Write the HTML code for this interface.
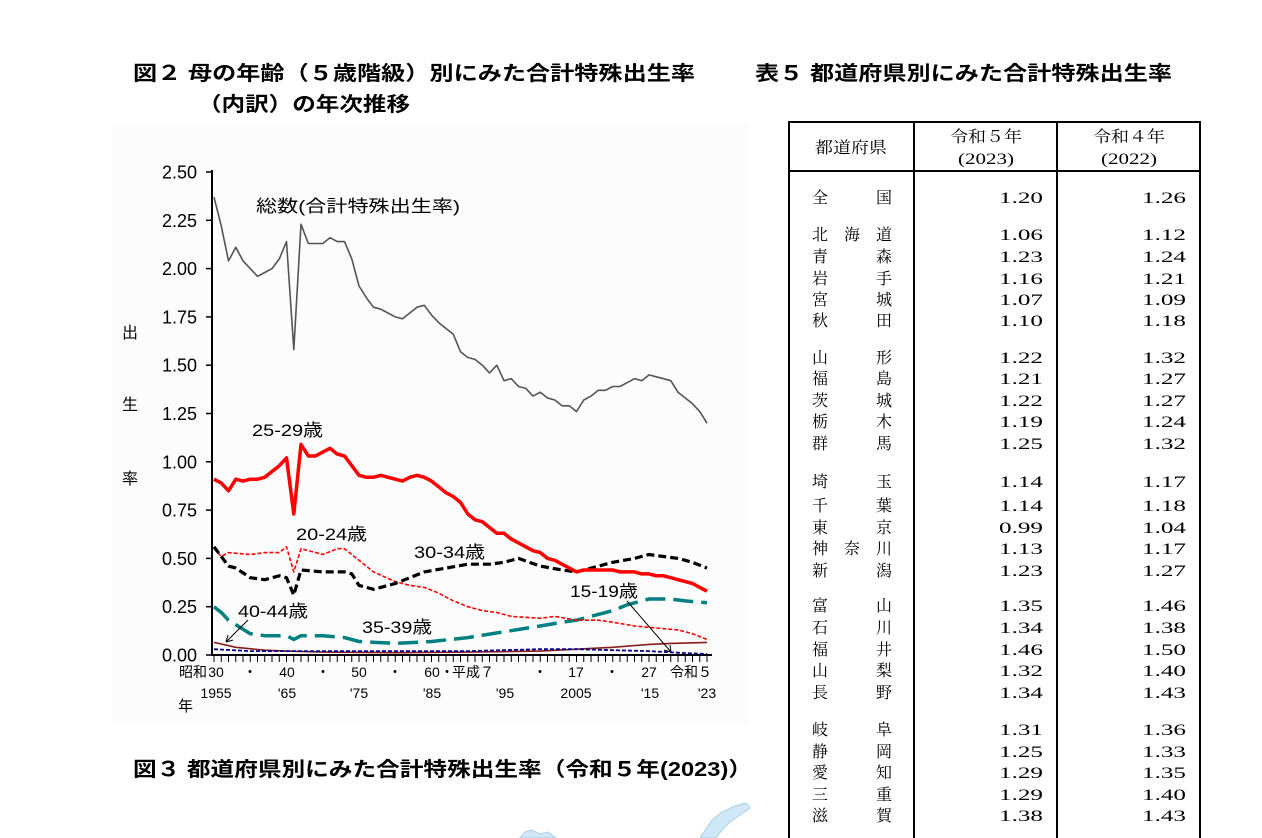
<!DOCTYPE html>
<html><head><meta charset="utf-8"><style>
html,body{margin:0;padding:0;background:#fff;}
svg{display:block}
.g{font-family:"Liberation Sans","Noto Sans CJK JP",sans-serif;}
.m{font-family:"Liberation Serif","Noto Serif CJK JP",serif;}
</style></head><body>
<svg id="s" width="1262" height="838" xmlns="http://www.w3.org/2000/svg">
<rect x="112" y="125" width="636" height="600" fill="#fcfcfc"/>
<g class="g" font-weight="bold" font-size="20" fill="#000">
<text x="133" y="80" textLength="562" lengthAdjust="spacingAndGlyphs">図２ 母の年齢（５歳階級）別にみた合計特殊出生率</text>
<text x="198" y="111" textLength="212" lengthAdjust="spacingAndGlyphs">（内訳）の年次推移</text>
<text x="755" y="80" textLength="417" lengthAdjust="spacingAndGlyphs">表５ 都道府県別にみた合計特殊出生率</text>
<text x="133" y="776" textLength="619" lengthAdjust="spacingAndGlyphs">図３ 都道府県別にみた合計特殊出生率（令和５年(2023)）</text>
</g>
<g class="g" font-size="16" fill="#000">
<text x="122" y="338">出</text><text x="122" y="410">生</text><text x="122" y="484">率</text>
</g>
<g id="chart"></g>
<g class="g" font-size="17" fill="#000">
<text x="256" y="212" textLength="204" lengthAdjust="spacingAndGlyphs">総数(合計特殊出生率)</text>
<text x="252" y="436" textLength="71" lengthAdjust="spacingAndGlyphs">25-29歳</text>
<text x="296" y="540" textLength="71" lengthAdjust="spacingAndGlyphs">20-24歳</text>
<text x="414" y="558" textLength="71" lengthAdjust="spacingAndGlyphs">30-34歳</text>
<text x="570" y="597" textLength="68" lengthAdjust="spacingAndGlyphs">15-19歳</text>
<text x="238" y="617" textLength="70" lengthAdjust="spacingAndGlyphs">40-44歳</text>
<text x="362" y="633" textLength="70" lengthAdjust="spacingAndGlyphs">35-39歳</text>
</g>
<path d="M248 620 L226 642 M226 642 l2 -7 M226 642 l7 -2" stroke="#000" fill="none"/>
<path d="M627 601 L671 652 M671 652 l-7 -2 M671 652 l-1 -7" stroke="#000" fill="none"/>
<g id="table"></g>
<g fill="#cfe7f7" stroke="#a9d0ea" stroke-width="1">
<path d="M700 838 L712 820 L722 812 L735 806 L746 803 L750 808 L740 815 L730 822 L722 830 L716 838 Z"/>
<path d="M520 838 L525 832 L532 830 L540 834 L548 832 L556 838 Z"/>
</g>
</svg>
<script>
(function(){
var NS="http://www.w3.org/2000/svg";
var ch=document.getElementById("chart"), tb=document.getElementById("table");
function el(p,tag,a,txt){var e=document.createElementNS(NS,tag);for(var k in a)e.setAttribute(k,a[k]);if(txt!=null)e.textContent=txt;p.appendChild(e);return e;}
function X(y){return 214+(y-1955)*7.25;}
function Y(v){return 655-v*193.2;}
el(ch,"line",{x1:212,y1:170,x2:212,y2:656,stroke:"#000","stroke-width":2});
el(ch,"line",{x1:211,y1:655,x2:712,y2:655,stroke:"#000","stroke-width":2});
var yl=["0.00","0.25","0.50","0.75","1.00","1.25","1.50","1.75","2.00","2.25","2.50"];
for(var i=0;i<=10;i++){var yy=655-i*48.3;el(ch,"line",{x1:206,y1:yy,x2:212,y2:yy,stroke:"#000","stroke-width":1.5});
el(ch,"text",{x:197,y:yy+6.5,"text-anchor":"end","font-size":"18",class:"g"},yl[i]);}
for(var yr=1955;yr<=2023;yr++){el(ch,"line",{x1:X(yr),y1:655,x2:X(yr),y2:662,stroke:"#000","stroke-width":1});}
var r1=[["昭和",193],["30",216],["・",250],["40",287],["・",323],["50",359],["・",395],["60",432],["・",447],["平成７",473],["・",540],["17",576],["・",612],["27",649],["令和５",691]];
r1.forEach(function(a){el(ch,"text",{x:a[1],y:677,"text-anchor":"middle","font-size":"14",class:"g"},a[0]);});
var r2=[["1955",216],["'65",287],["'75",359],["'85",432],["'95",505],["2005",576],["'15",650],["'23",707]];
r2.forEach(function(a){el(ch,"text",{x:a[1],y:698,"text-anchor":"middle","font-size":"14",class:"g"},a[0]);});
el(ch,"text",{x:178,y:711,"font-size":"15",class:"g"},"年");
function series(d,attrs){var pts=[];for(var i=0;i<d.length;i+=2)pts.push(X(d[i]).toFixed(1)+","+Y(d[i+1]).toFixed(1));attrs.points=pts.join(" ");attrs.fill="none";attrs["stroke-linejoin"]="round";el(ch,"polyline",attrs);}
series([1955,2.37,1956,2.22,1957,2.04,1958,2.11,1959,2.04,1960,2.00,1961,1.96,1962,1.98,1963,2.00,1964,2.05,1965,2.14,1966,1.58,1967,2.23,1968,2.13,1969,2.13,1970,2.13,1971,2.16,1972,2.14,1973,2.14,1974,2.05,1975,1.91,1976,1.85,1977,1.80,1978,1.79,1979,1.77,1980,1.75,1981,1.74,1982,1.77,1983,1.80,1984,1.81,1985,1.76,1986,1.72,1987,1.69,1988,1.66,1989,1.57,1990,1.54,1991,1.53,1992,1.50,1993,1.46,1994,1.50,1995,1.42,1996,1.43,1997,1.39,1998,1.38,1999,1.34,2000,1.36,2001,1.33,2002,1.32,2003,1.29,2004,1.29,2005,1.26,2006,1.32,2007,1.34,2008,1.37,2009,1.37,2010,1.39,2011,1.39,2012,1.41,2013,1.43,2014,1.42,2015,1.45,2016,1.44,2017,1.43,2018,1.42,2019,1.36,2020,1.33,2021,1.30,2022,1.26,2023,1.20],{stroke:"#555","stroke-width":1.6});
series([1955,0.065,1958,0.04,1962,0.025,1965,0.02,1970,0.015,1980,0.012,1990,0.015,2000,0.02,2005,0.03,2010,0.04,2015,0.055,2018,0.06,2023,0.065],{stroke:"#8b1a1a","stroke-width":1.6});
series([1955,0.03,1960,0.02,1970,0.02,1980,0.02,1990,0.02,2000,0.03,2005,0.03,2010,0.025,2015,0.02,2020,0.01,2023,0.005],{stroke:"#00008b","stroke-width":1.8,"stroke-dasharray":"4,2"});
series([1955,0.25,1956,0.22,1957,0.18,1960,0.11,1962,0.10,1964,0.10,1965,0.10,1966,0.08,1967,0.10,1970,0.10,1973,0.09,1975,0.07,1980,0.06,1985,0.07,1990,0.09,1995,0.12,2000,0.15,2003,0.17,2005,0.18,2008,0.21,2010,0.23,2012,0.26,2015,0.29,2018,0.29,2020,0.28,2023,0.27],{stroke:"#008080","stroke-width":3.5,"stroke-dasharray":"20,8"});
series([1955,0.55,1956,0.51,1957,0.53,1960,0.52,1962,0.53,1964,0.53,1965,0.56,1966,0.43,1967,0.55,1970,0.52,1972,0.55,1973,0.55,1975,0.49,1977,0.43,1980,0.38,1982,0.36,1984,0.35,1986,0.32,1988,0.28,1990,0.25,1992,0.23,1994,0.22,1996,0.20,2000,0.19,2002,0.20,2005,0.18,2008,0.18,2010,0.17,2013,0.15,2016,0.14,2019,0.13,2021,0.11,2023,0.08],{stroke:"#ff0000","stroke-width":1.6,"stroke-dasharray":"4,2"});
series([1955,0.56,1957,0.46,1958,0.45,1960,0.40,1962,0.39,1964,0.41,1965,0.40,1966,0.31,1967,0.44,1970,0.43,1973,0.43,1974,0.42,1975,0.36,1977,0.34,1980,0.37,1982,0.40,1984,0.43,1987,0.45,1990,0.47,1993,0.47,1995,0.48,1997,0.50,2000,0.46,2003,0.44,2005,0.43,2007,0.45,2010,0.48,2013,0.50,2015,0.52,2017,0.51,2019,0.50,2021,0.48,2023,0.45],{stroke:"#000","stroke-width":3.2,"stroke-dasharray":"8,4"});
series([1955,0.91,1956,0.89,1957,0.85,1958,0.91,1959,0.90,1960,0.91,1961,0.91,1962,0.92,1963,0.95,1964,0.98,1965,1.02,1966,0.73,1967,1.09,1968,1.03,1969,1.03,1970,1.05,1971,1.07,1972,1.04,1973,1.03,1974,0.98,1975,0.93,1976,0.92,1977,0.92,1978,0.93,1979,0.92,1980,0.91,1981,0.90,1982,0.92,1983,0.93,1984,0.92,1985,0.90,1986,0.87,1987,0.84,1988,0.82,1989,0.79,1990,0.73,1991,0.70,1992,0.69,1993,0.66,1994,0.63,1995,0.63,1996,0.60,1997,0.58,1998,0.56,1999,0.54,2000,0.53,2001,0.50,2002,0.49,2003,0.47,2004,0.45,2005,0.43,2006,0.44,2007,0.44,2008,0.44,2009,0.44,2010,0.44,2011,0.43,2012,0.43,2013,0.43,2014,0.42,2015,0.42,2016,0.41,2017,0.41,2018,0.40,2019,0.39,2020,0.38,2021,0.37,2022,0.35,2023,0.33],{stroke:"#ff0000","stroke-width":3.5});
var L=789,C1=914,C2=1057,R=1200;
el(tb,"rect",{x:L,y:122,width:R-L,height:716,fill:"#fff"});
el(tb,"line",{x1:L,y1:122,x2:R,y2:122,stroke:"#000","stroke-width":2});
el(tb,"line",{x1:L,y1:171,x2:R,y2:171,stroke:"#000","stroke-width":2});
[L,C1,C2,R].forEach(function(x){el(tb,"line",{x1:x,y1:121,x2:x,y2:838,stroke:"#000","stroke-width":2});});
function t(x,y,s,a,len){var o={x:x,y:y,class:"m","font-size":"16"};for(var k in a)o[k]=a[k];if(len){o.textLength=len;o.lengthAdjust="spacingAndGlyphs";}el(tb,"text",o,s);}
t(851,153,"都道府県",{"text-anchor":"middle"},72);
t(986,142,"令和５年",{"text-anchor":"middle"},72);t(986,164,"(2023)",{"text-anchor":"middle"},56);
t(1129,142,"令和４年",{"text-anchor":"middle"},72);t(1129,164,"(2022)",{"text-anchor":"middle"},56);
var rows=[["全国",197,"1.20","1.26"],
["北海道",234,"1.06","1.12"],["青森",256,"1.23","1.24"],["岩手",278,"1.16","1.21"],["宮城",299,"1.07","1.09"],["秋田",320,"1.10","1.18"],
["山形",357,"1.22","1.32"],["福島",378,"1.21","1.27"],["茨城",400,"1.22","1.27"],["栃木",421,"1.19","1.24"],["群馬",443,"1.25","1.32"],
["埼玉",481,"1.14","1.17"],["千葉",505,"1.14","1.18"],["東京",527,"0.99","1.04"],["神奈川",548,"1.13","1.17"],["新潟",570,"1.23","1.27"],
["富山",605,"1.35","1.46"],["石川",627,"1.34","1.38"],["福井",649,"1.46","1.50"],["山梨",670,"1.32","1.40"],["長野",692,"1.34","1.43"],
["岐阜",729,"1.31","1.36"],["静岡",751,"1.25","1.33"],["愛知",772,"1.29","1.35"],["三重",794,"1.29","1.40"],["滋賀",815,"1.38","1.43"]];
rows.forEach(function(r){var y=r[1]+6,n=r[0];
 if(n.length==2){t(812,y,n[0]);t(876,y,n[1]);}else{t(812,y,n[0]);t(844,y,n[1]);t(876,y,n[2]);}
 t(1043,y,r[2],{"text-anchor":"end"},44);t(1186,y,r[3],{"text-anchor":"end"},44);});
})();
</script>
</body></html>
